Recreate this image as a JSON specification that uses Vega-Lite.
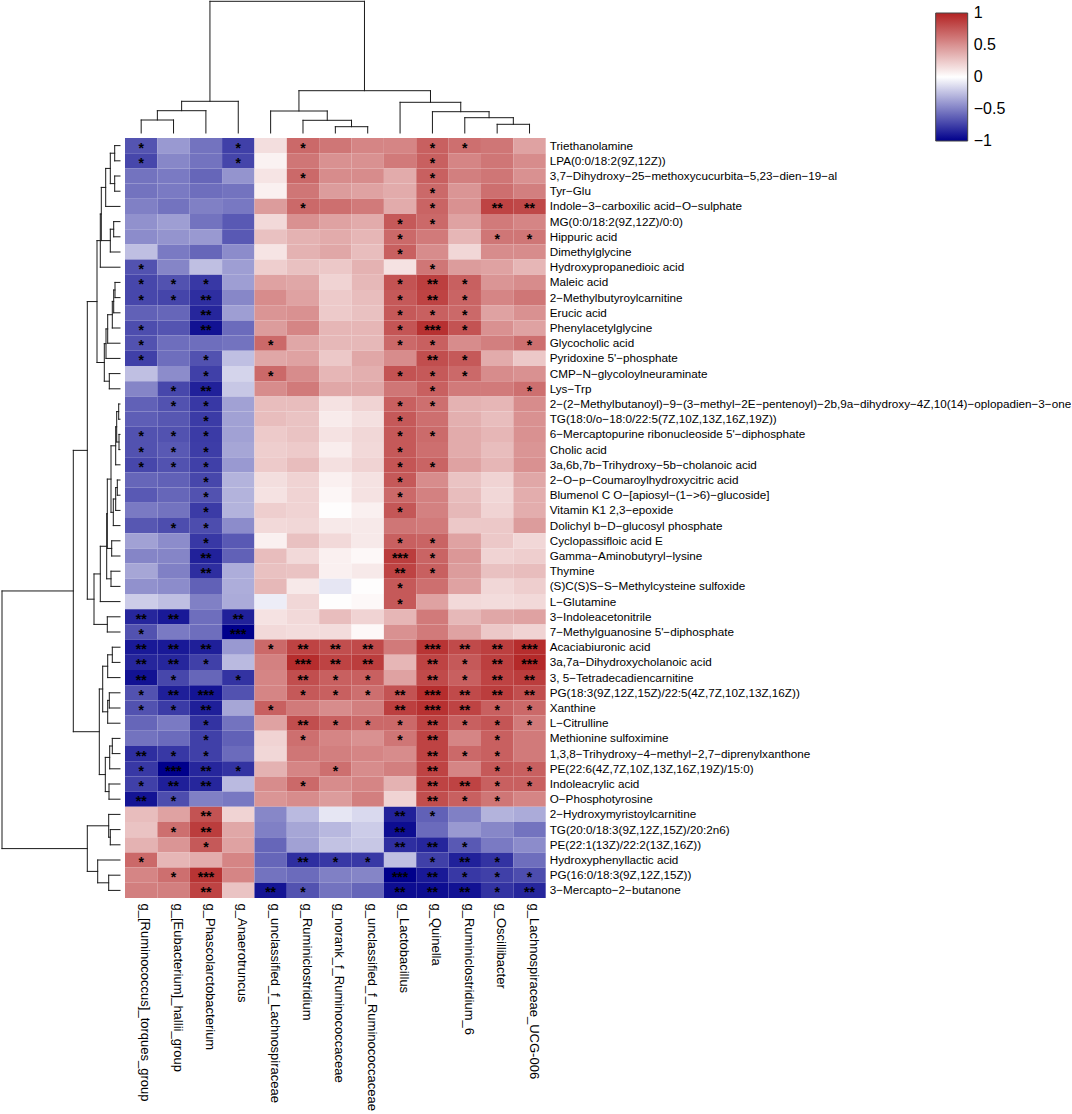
{"$schema":"https://vega.github.io/schema/vega-lite/v6.json","padding":0,"background":"white","bounds":"flush","spacing":0,
"config":{"view":{"stroke":null},"font":"Liberation Sans"},
"datasets":{
"metabolites":[{"m":1,"metabolite":"Triethanolamine"},{"m":2,"metabolite":"LPA(0:0/18:2(9Z,12Z))"},{"m":3,"metabolite":"3,7−Dihydroxy−25−methoxycucurbita−5,23−dien−19−al"},{"m":4,"metabolite":"Tyr−Glu"},{"m":5,"metabolite":"Indole−3−carboxilic acid−O−sulphate"},{"m":6,"metabolite":"MG(0:0/18:2(9Z,12Z)/0:0)"},{"m":7,"metabolite":"Hippuric acid"},{"m":8,"metabolite":"Dimethylglycine"},{"m":9,"metabolite":"Hydroxypropanedioic acid"},{"m":10,"metabolite":"Maleic acid"},{"m":11,"metabolite":"2−Methylbutyroylcarnitine"},{"m":12,"metabolite":"Erucic acid"},{"m":13,"metabolite":"Phenylacetylglycine"},{"m":14,"metabolite":"Glycocholic acid"},{"m":15,"metabolite":"Pyridoxine 5'−phosphate"},{"m":16,"metabolite":"CMP−N−glycoloylneuraminate"},{"m":17,"metabolite":"Lys−Trp"},{"m":18,"metabolite":"2−(2−Methylbutanoyl)−9−(3−methyl−2E−pentenoyl)−2b,9a−dihydroxy−4Z,10(14)−oplopadien−3−one"},{"m":19,"metabolite":"TG(18:0/o−18:0/22:5(7Z,10Z,13Z,16Z,19Z))"},{"m":20,"metabolite":"6−Mercaptopurine ribonucleoside 5'−diphosphate"},{"m":21,"metabolite":"Cholic acid"},{"m":22,"metabolite":"3a,6b,7b−Trihydroxy−5b−cholanoic acid"},{"m":23,"metabolite":"2−O−p−Coumaroylhydroxycitric acid"},{"m":24,"metabolite":"Blumenol C O−[apiosyl−(1−>6)−glucoside]"},{"m":25,"metabolite":"Vitamin K1 2,3−epoxide"},{"m":26,"metabolite":"Dolichyl b−D−glucosyl phosphate"},{"m":27,"metabolite":"Cyclopassifloic acid E"},{"m":28,"metabolite":"Gamma−Aminobutyryl−lysine"},{"m":29,"metabolite":"Thymine"},{"m":30,"metabolite":"(S)C(S)S−S−Methylcysteine sulfoxide"},{"m":31,"metabolite":"L−Glutamine"},{"m":32,"metabolite":"3−Indoleacetonitrile"},{"m":33,"metabolite":"7−Methylguanosine 5'−diphosphate"},{"m":34,"metabolite":"Acaciabiuronic acid"},{"m":35,"metabolite":"3a,7a−Dihydroxycholanoic acid"},{"m":36,"metabolite":"3, 5−Tetradecadiencarnitine"},{"m":37,"metabolite":"PG(18:3(9Z,12Z,15Z)/22:5(4Z,7Z,10Z,13Z,16Z))"},{"m":38,"metabolite":"Xanthine"},{"m":39,"metabolite":"L−Citrulline"},{"m":40,"metabolite":"Methionine sulfoximine"},{"m":41,"metabolite":"1,3,8−Trihydroxy−4−methyl−2,7−diprenylxanthone"},{"m":42,"metabolite":"PE(22:6(4Z,7Z,10Z,13Z,16Z,19Z)/15:0)"},{"m":43,"metabolite":"Indoleacrylic acid"},{"m":44,"metabolite":"O−Phosphotyrosine"},{"m":45,"metabolite":"2−Hydroxymyristoylcarnitine"},{"m":46,"metabolite":"TG(20:0/18:3(9Z,12Z,15Z)/20:2n6)"},{"m":47,"metabolite":"PE(22:1(13Z)/22:2(13Z,16Z))"},{"m":48,"metabolite":"Hydroxyphenyllactic acid"},{"m":49,"metabolite":"PG(16:0/18:3(9Z,12Z,15Z))"},{"m":50,"metabolite":"3−Mercapto−2−butanone"}],
"genera":[{"g":1,"genus":"g_[Ruminococcus]_torques_group"},{"g":2,"genus":"g_[Eubacterium]_hallii_group"},{"g":3,"genus":"g_Phascolarctobacterium"},{"g":4,"genus":"g_Anaerotruncus"},{"g":5,"genus":"g_unclassified_f_Lachnospiraceae"},{"g":6,"genus":"g_Ruminiclostridium"},{"g":7,"genus":"g_norank_f_Ruminococcaceae"},{"g":8,"genus":"g_unclassified_f_Ruminococcaceae"},{"g":9,"genus":"g_Lactobacillus"},{"g":10,"genus":"g_Quinella"},{"g":11,"genus":"g_Ruminiclostridium_6"},{"g":12,"genus":"g_Oscillibacter"},{"g":13,"genus":"g_Lachnospiraceae_UCG-006"}],
"rowTree":[{"a":1,"ha":0,"b":2,"hb":0,"h":5.3},{"a":3,"ha":0,"b":4,"hb":0,"h":5.3},{"a":1.5,"ha":5.3,"b":3.5,"hb":5.3,"h":9.7},{"a":2.5,"ha":9.7,"b":5,"hb":0,"h":14.3},{"a":6,"ha":0,"b":7,"hb":0,"h":6.3},{"a":6.5,"ha":6.3,"b":8,"hb":0,"h":9.7},{"a":3.75,"ha":14.3,"b":7.25,"hb":9.7,"h":18.7},{"a":5.5,"ha":18.7,"b":9,"hb":0,"h":19.7},{"a":10,"ha":0,"b":11,"hb":0,"h":5},{"a":10.5,"ha":5,"b":12,"hb":0,"h":6.3},{"a":11.25,"ha":6.3,"b":13,"hb":0,"h":7.7},{"a":12.125,"ha":7.7,"b":14,"hb":0,"h":12.3},{"a":13.06,"ha":12.3,"b":15,"hb":0,"h":14},{"a":16,"ha":0,"b":17,"hb":0,"h":10.7},{"a":14.03,"ha":14,"b":16.5,"hb":10.7,"h":15.7},{"a":7.25,"ha":19.7,"b":15.27,"hb":15.7,"h":23},{"a":18,"ha":0,"b":19,"hb":0,"h":1.3},{"a":20,"ha":0,"b":21,"hb":0,"h":1},{"a":18.5,"ha":1.3,"b":20.5,"hb":1,"h":3.3},{"a":19.5,"ha":3.3,"b":22,"hb":0,"h":4.3},{"a":23,"ha":0,"b":24,"hb":0,"h":2.7},{"a":23.5,"ha":2.7,"b":25,"hb":0,"h":4.3},{"a":24.25,"ha":4.3,"b":26,"hb":0,"h":6.7},{"a":20.75,"ha":4.3,"b":25.125,"hb":6.7,"h":9},{"a":27,"ha":0,"b":28,"hb":0,"h":8.3},{"a":22.94,"ha":9,"b":27.5,"hb":8.3,"h":12.7},{"a":29,"ha":0,"b":30,"hb":0,"h":9},{"a":25.22,"ha":12.7,"b":29.5,"hb":9,"h":13.3},{"a":27.36,"ha":13.3,"b":31,"hb":0,"h":19.7},{"a":32,"ha":0,"b":33,"hb":0,"h":12.7},{"a":29.18,"ha":19.7,"b":32.5,"hb":12.7,"h":26},{"a":11.26,"ha":23,"b":30.84,"hb":26,"h":32.7},{"a":34,"ha":0,"b":35,"hb":0,"h":7.7},{"a":34.5,"ha":7.7,"b":36,"hb":0,"h":12.3},{"a":37,"ha":0,"b":38,"hb":0,"h":10.7},{"a":37.5,"ha":10.7,"b":39,"hb":0,"h":12.3},{"a":35.25,"ha":12.3,"b":38.25,"hb":12.3,"h":17.3},{"a":40,"ha":0,"b":41,"hb":0,"h":7.7},{"a":40.5,"ha":7.7,"b":42,"hb":0,"h":10.3},{"a":43,"ha":0,"b":44,"hb":0,"h":11},{"a":41.25,"ha":10.3,"b":43.5,"hb":11,"h":14.7},{"a":36.75,"ha":17.3,"b":42.38,"hb":14.7,"h":20.7},{"a":21.05,"ha":32.7,"b":39.56,"hb":20.7,"h":46.7},{"a":46,"ha":0,"b":47,"hb":0,"h":9.7},{"a":45,"ha":0,"b":46.5,"hb":9.7,"h":11.3},{"a":49,"ha":0,"b":50,"hb":0,"h":11.3},{"a":48,"ha":0,"b":49.5,"hb":11.3,"h":22.3},{"a":45.75,"ha":11.3,"b":48.75,"hb":22.3,"h":32.7},{"a":30.3,"ha":46.7,"b":47.25,"hb":32.7,"h":118}],
"colTree":[{"a":1,"ha":0,"b":2,"hb":0,"h":13},{"a":1.5,"ha":13,"b":3,"hb":0,"h":22.3},{"a":2.25,"ha":22.3,"b":4,"hb":0,"h":31.7},{"a":7,"ha":0,"b":8,"hb":0,"h":6.3},{"a":6,"ha":0,"b":7.5,"hb":6.3,"h":12.7},{"a":5,"ha":0,"b":6.75,"hb":12.7,"h":22},{"a":12,"ha":0,"b":13,"hb":0,"h":8.7},{"a":11,"ha":0,"b":12.5,"hb":8.7,"h":15.3},{"a":10,"ha":0,"b":11.75,"hb":15.3,"h":21.3},{"a":9,"ha":0,"b":10.875,"hb":21.3,"h":30.7},{"a":5.875,"ha":22,"b":9.94,"hb":30.7,"h":42.3},{"a":3.125,"ha":31.7,"b":7.9,"hb":42.3,"h":131.7}],
"cells":[
{"m":1,"g":1,"r":-0.67,"s":"*"},{"m":1,"g":2,"r":-0.4,"s":""},{"m":1,"g":3,"r":-0.55,"s":""},{"m":1,"g":4,"r":-0.75,"s":"*"},{"m":1,"g":5,"r":0.15,"s":""},{"m":1,"g":6,"r":0.68,"s":"*"},{"m":1,"g":7,"r":0.62,"s":""},{"m":1,"g":8,"r":0.55,"s":""},{"m":1,"g":9,"r":0.55,"s":""},{"m":1,"g":10,"r":0.72,"s":"*"},{"m":1,"g":11,"r":0.65,"s":"*"},{"m":1,"g":12,"r":0.62,"s":""},{"m":1,"g":13,"r":0.42,"s":""},
{"m":2,"g":1,"r":-0.72,"s":"*"},{"m":2,"g":2,"r":-0.47,"s":""},{"m":2,"g":3,"r":-0.55,"s":""},{"m":2,"g":4,"r":-0.73,"s":"*"},{"m":2,"g":5,"r":0.06,"s":""},{"m":2,"g":6,"r":0.62,"s":""},{"m":2,"g":7,"r":0.5,"s":""},{"m":2,"g":8,"r":0.5,"s":""},{"m":2,"g":9,"r":0.6,"s":""},{"m":2,"g":10,"r":0.72,"s":"*"},{"m":2,"g":11,"r":0.55,"s":""},{"m":2,"g":12,"r":0.62,"s":""},{"m":2,"g":13,"r":0.52,"s":""},
{"m":3,"g":1,"r":-0.55,"s":""},{"m":3,"g":2,"r":-0.52,"s":""},{"m":3,"g":3,"r":-0.6,"s":""},{"m":3,"g":4,"r":-0.42,"s":""},{"m":3,"g":5,"r":0.12,"s":""},{"m":3,"g":6,"r":0.68,"s":"*"},{"m":3,"g":7,"r":0.52,"s":""},{"m":3,"g":8,"r":0.52,"s":""},{"m":3,"g":9,"r":0.38,"s":""},{"m":3,"g":10,"r":0.72,"s":"*"},{"m":3,"g":11,"r":0.58,"s":""},{"m":3,"g":12,"r":0.62,"s":""},{"m":3,"g":13,"r":0.5,"s":""},
{"m":4,"g":1,"r":-0.55,"s":""},{"m":4,"g":2,"r":-0.52,"s":""},{"m":4,"g":3,"r":-0.57,"s":""},{"m":4,"g":4,"r":-0.55,"s":""},{"m":4,"g":5,"r":0.07,"s":""},{"m":4,"g":6,"r":0.62,"s":""},{"m":4,"g":7,"r":0.45,"s":""},{"m":4,"g":8,"r":0.42,"s":""},{"m":4,"g":9,"r":0.38,"s":""},{"m":4,"g":10,"r":0.68,"s":"*"},{"m":4,"g":11,"r":0.48,"s":""},{"m":4,"g":12,"r":0.65,"s":""},{"m":4,"g":13,"r":0.58,"s":""},
{"m":5,"g":1,"r":-0.5,"s":""},{"m":5,"g":2,"r":-0.55,"s":""},{"m":5,"g":3,"r":-0.5,"s":""},{"m":5,"g":4,"r":-0.53,"s":""},{"m":5,"g":5,"r":0.45,"s":""},{"m":5,"g":6,"r":0.68,"s":"*"},{"m":5,"g":7,"r":0.65,"s":""},{"m":5,"g":8,"r":0.6,"s":""},{"m":5,"g":9,"r":0.38,"s":""},{"m":5,"g":10,"r":0.7,"s":"*"},{"m":5,"g":11,"r":0.5,"s":""},{"m":5,"g":12,"r":0.85,"s":"**"},{"m":5,"g":13,"r":0.83,"s":"**"},
{"m":6,"g":1,"r":-0.43,"s":""},{"m":6,"g":2,"r":-0.38,"s":""},{"m":6,"g":3,"r":-0.55,"s":""},{"m":6,"g":4,"r":-0.65,"s":""},{"m":6,"g":5,"r":0.17,"s":""},{"m":6,"g":6,"r":0.5,"s":""},{"m":6,"g":7,"r":0.42,"s":""},{"m":6,"g":8,"r":0.38,"s":""},{"m":6,"g":9,"r":0.75,"s":"*"},{"m":6,"g":10,"r":0.68,"s":"*"},{"m":6,"g":11,"r":0.42,"s":""},{"m":6,"g":12,"r":0.6,"s":""},{"m":6,"g":13,"r":0.55,"s":""},
{"m":7,"g":1,"r":-0.45,"s":""},{"m":7,"g":2,"r":-0.42,"s":""},{"m":7,"g":3,"r":-0.4,"s":""},{"m":7,"g":4,"r":-0.65,"s":""},{"m":7,"g":5,"r":0.28,"s":""},{"m":7,"g":6,"r":0.35,"s":""},{"m":7,"g":7,"r":0.38,"s":""},{"m":7,"g":8,"r":0.33,"s":""},{"m":7,"g":9,"r":0.68,"s":"*"},{"m":7,"g":10,"r":0.6,"s":""},{"m":7,"g":11,"r":0.33,"s":""},{"m":7,"g":12,"r":0.62,"s":"*"},{"m":7,"g":13,"r":0.62,"s":"*"},
{"m":8,"g":1,"r":-0.25,"s":""},{"m":8,"g":2,"r":-0.52,"s":""},{"m":8,"g":3,"r":-0.6,"s":""},{"m":8,"g":4,"r":-0.45,"s":""},{"m":8,"g":5,"r":0.12,"s":""},{"m":8,"g":6,"r":0.35,"s":""},{"m":8,"g":7,"r":0.4,"s":""},{"m":8,"g":8,"r":0.3,"s":""},{"m":8,"g":9,"r":0.72,"s":"*"},{"m":8,"g":10,"r":0.52,"s":""},{"m":8,"g":11,"r":0.18,"s":""},{"m":8,"g":12,"r":0.52,"s":""},{"m":8,"g":13,"r":0.52,"s":""},
{"m":9,"g":1,"r":-0.68,"s":"*"},{"m":9,"g":2,"r":-0.48,"s":""},{"m":9,"g":3,"r":-0.25,"s":""},{"m":9,"g":4,"r":-0.38,"s":""},{"m":9,"g":5,"r":0.22,"s":""},{"m":9,"g":6,"r":0.28,"s":""},{"m":9,"g":7,"r":0.25,"s":""},{"m":9,"g":8,"r":0.35,"s":""},{"m":9,"g":9,"r":0.13,"s":""},{"m":9,"g":10,"r":0.62,"s":"*"},{"m":9,"g":11,"r":0.45,"s":""},{"m":9,"g":12,"r":0.42,"s":""},{"m":9,"g":13,"r":0.33,"s":""},
{"m":10,"g":1,"r":-0.72,"s":"*"},{"m":10,"g":2,"r":-0.68,"s":"*"},{"m":10,"g":3,"r":-0.78,"s":"*"},{"m":10,"g":4,"r":-0.38,"s":""},{"m":10,"g":5,"r":0.42,"s":""},{"m":10,"g":6,"r":0.4,"s":""},{"m":10,"g":7,"r":0.2,"s":""},{"m":10,"g":8,"r":0.32,"s":""},{"m":10,"g":9,"r":0.78,"s":"*"},{"m":10,"g":10,"r":0.87,"s":"**"},{"m":10,"g":11,"r":0.72,"s":"*"},{"m":10,"g":12,"r":0.48,"s":""},{"m":10,"g":13,"r":0.52,"s":""},
{"m":11,"g":1,"r":-0.72,"s":"*"},{"m":11,"g":2,"r":-0.73,"s":"*"},{"m":11,"g":3,"r":-0.82,"s":"**"},{"m":11,"g":4,"r":-0.47,"s":""},{"m":11,"g":5,"r":0.52,"s":""},{"m":11,"g":6,"r":0.42,"s":""},{"m":11,"g":7,"r":0.24,"s":""},{"m":11,"g":8,"r":0.3,"s":""},{"m":11,"g":9,"r":0.75,"s":"*"},{"m":11,"g":10,"r":0.85,"s":"**"},{"m":11,"g":11,"r":0.7,"s":"*"},{"m":11,"g":12,"r":0.55,"s":""},{"m":11,"g":13,"r":0.62,"s":""},
{"m":12,"g":1,"r":-0.62,"s":""},{"m":12,"g":2,"r":-0.6,"s":""},{"m":12,"g":3,"r":-0.85,"s":"**"},{"m":12,"g":4,"r":-0.38,"s":""},{"m":12,"g":5,"r":0.48,"s":""},{"m":12,"g":6,"r":0.5,"s":""},{"m":12,"g":7,"r":0.24,"s":""},{"m":12,"g":8,"r":0.28,"s":""},{"m":12,"g":9,"r":0.75,"s":"*"},{"m":12,"g":10,"r":0.72,"s":"*"},{"m":12,"g":11,"r":0.68,"s":"*"},{"m":12,"g":12,"r":0.42,"s":""},{"m":12,"g":13,"r":0.5,"s":""},
{"m":13,"g":1,"r":-0.7,"s":"*"},{"m":13,"g":2,"r":-0.67,"s":""},{"m":13,"g":3,"r":-0.93,"s":"**"},{"m":13,"g":4,"r":-0.58,"s":""},{"m":13,"g":5,"r":0.45,"s":""},{"m":13,"g":6,"r":0.55,"s":""},{"m":13,"g":7,"r":0.33,"s":""},{"m":13,"g":8,"r":0.33,"s":""},{"m":13,"g":9,"r":0.77,"s":"*"},{"m":13,"g":10,"r":0.93,"s":"***"},{"m":13,"g":11,"r":0.78,"s":"*"},{"m":13,"g":12,"r":0.5,"s":""},{"m":13,"g":13,"r":0.42,"s":""},
{"m":14,"g":1,"r":-0.68,"s":"*"},{"m":14,"g":2,"r":-0.57,"s":""},{"m":14,"g":3,"r":-0.57,"s":""},{"m":14,"g":4,"r":-0.55,"s":""},{"m":14,"g":5,"r":0.68,"s":"*"},{"m":14,"g":6,"r":0.4,"s":""},{"m":14,"g":7,"r":0.32,"s":""},{"m":14,"g":8,"r":0.32,"s":""},{"m":14,"g":9,"r":0.68,"s":"*"},{"m":14,"g":10,"r":0.72,"s":"*"},{"m":14,"g":11,"r":0.52,"s":""},{"m":14,"g":12,"r":0.58,"s":""},{"m":14,"g":13,"r":0.65,"s":"*"},
{"m":15,"g":1,"r":-0.75,"s":"*"},{"m":15,"g":2,"r":-0.57,"s":""},{"m":15,"g":3,"r":-0.68,"s":"*"},{"m":15,"g":4,"r":-0.25,"s":""},{"m":15,"g":5,"r":0.4,"s":""},{"m":15,"g":6,"r":0.42,"s":""},{"m":15,"g":7,"r":0.25,"s":""},{"m":15,"g":8,"r":0.4,"s":""},{"m":15,"g":9,"r":0.52,"s":""},{"m":15,"g":10,"r":0.8,"s":"**"},{"m":15,"g":11,"r":0.75,"s":"*"},{"m":15,"g":12,"r":0.38,"s":""},{"m":15,"g":13,"r":0.25,"s":""},
{"m":16,"g":1,"r":-0.25,"s":""},{"m":16,"g":2,"r":-0.45,"s":""},{"m":16,"g":3,"r":-0.75,"s":"*"},{"m":16,"g":4,"r":-0.17,"s":""},{"m":16,"g":5,"r":0.68,"s":"*"},{"m":16,"g":6,"r":0.52,"s":""},{"m":16,"g":7,"r":0.33,"s":""},{"m":16,"g":8,"r":0.36,"s":""},{"m":16,"g":9,"r":0.78,"s":"*"},{"m":16,"g":10,"r":0.75,"s":"*"},{"m":16,"g":11,"r":0.68,"s":"*"},{"m":16,"g":12,"r":0.52,"s":""},{"m":16,"g":13,"r":0.5,"s":""},
{"m":17,"g":1,"r":-0.48,"s":""},{"m":17,"g":2,"r":-0.72,"s":"*"},{"m":17,"g":3,"r":-0.87,"s":"**"},{"m":17,"g":4,"r":-0.22,"s":""},{"m":17,"g":5,"r":0.52,"s":""},{"m":17,"g":6,"r":0.6,"s":""},{"m":17,"g":7,"r":0.4,"s":""},{"m":17,"g":8,"r":0.4,"s":""},{"m":17,"g":9,"r":0.62,"s":""},{"m":17,"g":10,"r":0.72,"s":"*"},{"m":17,"g":11,"r":0.6,"s":""},{"m":17,"g":12,"r":0.6,"s":""},{"m":17,"g":13,"r":0.65,"s":"*"},
{"m":18,"g":1,"r":-0.62,"s":""},{"m":18,"g":2,"r":-0.68,"s":"*"},{"m":18,"g":3,"r":-0.78,"s":"*"},{"m":18,"g":4,"r":-0.37,"s":""},{"m":18,"g":5,"r":0.3,"s":""},{"m":18,"g":6,"r":0.3,"s":""},{"m":18,"g":7,"r":0.13,"s":""},{"m":18,"g":8,"r":0.2,"s":""},{"m":18,"g":9,"r":0.72,"s":"*"},{"m":18,"g":10,"r":0.65,"s":"*"},{"m":18,"g":11,"r":0.35,"s":""},{"m":18,"g":12,"r":0.33,"s":""},{"m":18,"g":13,"r":0.52,"s":""},
{"m":19,"g":1,"r":-0.63,"s":""},{"m":19,"g":2,"r":-0.66,"s":""},{"m":19,"g":3,"r":-0.77,"s":"*"},{"m":19,"g":4,"r":-0.37,"s":""},{"m":19,"g":5,"r":0.3,"s":""},{"m":19,"g":6,"r":0.27,"s":""},{"m":19,"g":7,"r":0.09,"s":""},{"m":19,"g":8,"r":0.14,"s":""},{"m":19,"g":9,"r":0.75,"s":"*"},{"m":19,"g":10,"r":0.65,"s":""},{"m":19,"g":11,"r":0.36,"s":""},{"m":19,"g":12,"r":0.3,"s":""},{"m":19,"g":13,"r":0.5,"s":""},
{"m":20,"g":1,"r":-0.68,"s":"*"},{"m":20,"g":2,"r":-0.68,"s":"*"},{"m":20,"g":3,"r":-0.77,"s":"*"},{"m":20,"g":4,"r":-0.37,"s":""},{"m":20,"g":5,"r":0.24,"s":""},{"m":20,"g":6,"r":0.27,"s":""},{"m":20,"g":7,"r":0.13,"s":""},{"m":20,"g":8,"r":0.18,"s":""},{"m":20,"g":9,"r":0.75,"s":"*"},{"m":20,"g":10,"r":0.67,"s":"*"},{"m":20,"g":11,"r":0.38,"s":""},{"m":20,"g":12,"r":0.33,"s":""},{"m":20,"g":13,"r":0.5,"s":""},
{"m":21,"g":1,"r":-0.68,"s":"*"},{"m":21,"g":2,"r":-0.65,"s":"*"},{"m":21,"g":3,"r":-0.76,"s":"*"},{"m":21,"g":4,"r":-0.35,"s":""},{"m":21,"g":5,"r":0.22,"s":""},{"m":21,"g":6,"r":0.24,"s":""},{"m":21,"g":7,"r":0.08,"s":""},{"m":21,"g":8,"r":0.17,"s":""},{"m":21,"g":9,"r":0.75,"s":"*"},{"m":21,"g":10,"r":0.65,"s":""},{"m":21,"g":11,"r":0.38,"s":""},{"m":21,"g":12,"r":0.3,"s":""},{"m":21,"g":13,"r":0.48,"s":""},
{"m":22,"g":1,"r":-0.72,"s":"*"},{"m":22,"g":2,"r":-0.68,"s":"*"},{"m":22,"g":3,"r":-0.75,"s":"*"},{"m":22,"g":4,"r":-0.4,"s":""},{"m":22,"g":5,"r":0.24,"s":""},{"m":22,"g":6,"r":0.3,"s":""},{"m":22,"g":7,"r":0.14,"s":""},{"m":22,"g":8,"r":0.2,"s":""},{"m":22,"g":9,"r":0.77,"s":"*"},{"m":22,"g":10,"r":0.7,"s":"*"},{"m":22,"g":11,"r":0.42,"s":""},{"m":22,"g":12,"r":0.33,"s":""},{"m":22,"g":13,"r":0.5,"s":""},
{"m":23,"g":1,"r":-0.6,"s":""},{"m":23,"g":2,"r":-0.62,"s":""},{"m":23,"g":3,"r":-0.72,"s":"*"},{"m":23,"g":4,"r":-0.3,"s":""},{"m":23,"g":5,"r":0.15,"s":""},{"m":23,"g":6,"r":0.2,"s":""},{"m":23,"g":7,"r":0.07,"s":""},{"m":23,"g":8,"r":0.13,"s":""},{"m":23,"g":9,"r":0.75,"s":"*"},{"m":23,"g":10,"r":0.52,"s":""},{"m":23,"g":11,"r":0.27,"s":""},{"m":23,"g":12,"r":0.2,"s":""},{"m":23,"g":13,"r":0.4,"s":""},
{"m":24,"g":1,"r":-0.65,"s":""},{"m":24,"g":2,"r":-0.6,"s":""},{"m":24,"g":3,"r":-0.68,"s":"*"},{"m":24,"g":4,"r":-0.3,"s":""},{"m":24,"g":5,"r":0.13,"s":""},{"m":24,"g":6,"r":0.2,"s":""},{"m":24,"g":7,"r":0.04,"s":""},{"m":24,"g":8,"r":0.13,"s":""},{"m":24,"g":9,"r":0.68,"s":"*"},{"m":24,"g":10,"r":0.57,"s":""},{"m":24,"g":11,"r":0.3,"s":""},{"m":24,"g":12,"r":0.18,"s":""},{"m":24,"g":13,"r":0.37,"s":""},
{"m":25,"g":1,"r":-0.52,"s":""},{"m":25,"g":2,"r":-0.55,"s":""},{"m":25,"g":3,"r":-0.77,"s":"*"},{"m":25,"g":4,"r":-0.3,"s":""},{"m":25,"g":5,"r":0.22,"s":""},{"m":25,"g":6,"r":0.2,"s":""},{"m":25,"g":7,"r":0.01,"s":""},{"m":25,"g":8,"r":0.07,"s":""},{"m":25,"g":9,"r":0.76,"s":"*"},{"m":25,"g":10,"r":0.57,"s":""},{"m":25,"g":11,"r":0.32,"s":""},{"m":25,"g":12,"r":0.2,"s":""},{"m":25,"g":13,"r":0.37,"s":""},
{"m":26,"g":1,"r":-0.66,"s":""},{"m":26,"g":2,"r":-0.7,"s":"*"},{"m":26,"g":3,"r":-0.7,"s":"*"},{"m":26,"g":4,"r":-0.45,"s":""},{"m":26,"g":5,"r":0.17,"s":""},{"m":26,"g":6,"r":0.18,"s":""},{"m":26,"g":7,"r":0.1,"s":""},{"m":26,"g":8,"r":0.1,"s":""},{"m":26,"g":9,"r":0.62,"s":""},{"m":26,"g":10,"r":0.6,"s":""},{"m":26,"g":11,"r":0.25,"s":""},{"m":26,"g":12,"r":0.25,"s":""},{"m":26,"g":13,"r":0.45,"s":""},
{"m":27,"g":1,"r":-0.37,"s":""},{"m":27,"g":2,"r":-0.45,"s":""},{"m":27,"g":3,"r":-0.78,"s":"*"},{"m":27,"g":4,"r":-0.65,"s":""},{"m":27,"g":5,"r":0.07,"s":""},{"m":27,"g":6,"r":0.28,"s":""},{"m":27,"g":7,"r":0.17,"s":""},{"m":27,"g":8,"r":0.1,"s":""},{"m":27,"g":9,"r":0.72,"s":"*"},{"m":27,"g":10,"r":0.7,"s":"*"},{"m":27,"g":11,"r":0.42,"s":""},{"m":27,"g":12,"r":0.25,"s":""},{"m":27,"g":13,"r":0.18,"s":""},
{"m":28,"g":1,"r":-0.48,"s":""},{"m":28,"g":2,"r":-0.48,"s":""},{"m":28,"g":3,"r":-0.87,"s":"**"},{"m":28,"g":4,"r":-0.62,"s":""},{"m":28,"g":5,"r":0.3,"s":""},{"m":28,"g":6,"r":0.17,"s":""},{"m":28,"g":7,"r":0.07,"s":""},{"m":28,"g":8,"r":0.03,"s":""},{"m":28,"g":9,"r":0.88,"s":"***"},{"m":28,"g":10,"r":0.7,"s":"*"},{"m":28,"g":11,"r":0.47,"s":""},{"m":28,"g":12,"r":0.2,"s":""},{"m":28,"g":13,"r":0.22,"s":""},
{"m":29,"g":1,"r":-0.35,"s":""},{"m":29,"g":2,"r":-0.5,"s":""},{"m":29,"g":3,"r":-0.82,"s":"**"},{"m":29,"g":4,"r":-0.32,"s":""},{"m":29,"g":5,"r":0.28,"s":""},{"m":29,"g":6,"r":0.27,"s":""},{"m":29,"g":7,"r":0.07,"s":""},{"m":29,"g":8,"r":0.1,"s":""},{"m":29,"g":9,"r":0.85,"s":"**"},{"m":29,"g":10,"r":0.72,"s":"*"},{"m":29,"g":11,"r":0.45,"s":""},{"m":29,"g":12,"r":0.28,"s":""},{"m":29,"g":13,"r":0.3,"s":""},
{"m":30,"g":1,"r":-0.43,"s":""},{"m":30,"g":2,"r":-0.45,"s":""},{"m":30,"g":3,"r":-0.62,"s":""},{"m":30,"g":4,"r":-0.32,"s":""},{"m":30,"g":5,"r":0.32,"s":""},{"m":30,"g":6,"r":0.1,"s":""},{"m":30,"g":7,"r":-0.1,"s":""},{"m":30,"g":8,"r":0.01,"s":""},{"m":30,"g":9,"r":0.75,"s":"*"},{"m":30,"g":10,"r":0.65,"s":""},{"m":30,"g":11,"r":0.42,"s":""},{"m":30,"g":12,"r":0.18,"s":""},{"m":30,"g":13,"r":0.22,"s":""},
{"m":31,"g":1,"r":-0.2,"s":""},{"m":31,"g":2,"r":-0.25,"s":""},{"m":31,"g":3,"r":-0.5,"s":""},{"m":31,"g":4,"r":-0.33,"s":""},{"m":31,"g":5,"r":-0.07,"s":""},{"m":31,"g":6,"r":0.18,"s":""},{"m":31,"g":7,"r":0.01,"s":""},{"m":31,"g":8,"r":0.03,"s":""},{"m":31,"g":9,"r":0.75,"s":"*"},{"m":31,"g":10,"r":0.42,"s":""},{"m":31,"g":11,"r":0.17,"s":""},{"m":31,"g":12,"r":0.16,"s":""},{"m":31,"g":13,"r":0.17,"s":""},
{"m":32,"g":1,"r":-0.85,"s":"**"},{"m":32,"g":2,"r":-0.9,"s":"**"},{"m":32,"g":3,"r":-0.57,"s":""},{"m":32,"g":4,"r":-0.87,"s":"**"},{"m":32,"g":5,"r":0.13,"s":""},{"m":32,"g":6,"r":0.17,"s":""},{"m":32,"g":7,"r":0.3,"s":""},{"m":32,"g":8,"r":0.2,"s":""},{"m":32,"g":9,"r":0.33,"s":""},{"m":32,"g":10,"r":0.6,"s":""},{"m":32,"g":11,"r":0.32,"s":""},{"m":32,"g":12,"r":0.4,"s":""},{"m":32,"g":13,"r":0.42,"s":""},
{"m":33,"g":1,"r":-0.68,"s":"*"},{"m":33,"g":2,"r":-0.52,"s":""},{"m":33,"g":3,"r":-0.57,"s":""},{"m":33,"g":4,"r":-1,"s":"***"},{"m":33,"g":5,"r":0.17,"s":""},{"m":33,"g":6,"r":0.16,"s":""},{"m":33,"g":7,"r":0.16,"s":""},{"m":33,"g":8,"r":0.03,"s":""},{"m":33,"g":9,"r":0.5,"s":""},{"m":33,"g":10,"r":0.6,"s":""},{"m":33,"g":11,"r":0.42,"s":""},{"m":33,"g":12,"r":0.25,"s":""},{"m":33,"g":13,"r":0.2,"s":""},
{"m":34,"g":1,"r":-0.9,"s":"**"},{"m":34,"g":2,"r":-0.9,"s":"**"},{"m":34,"g":3,"r":-0.88,"s":"**"},{"m":34,"g":4,"r":-0.4,"s":""},{"m":34,"g":5,"r":0.68,"s":"*"},{"m":34,"g":6,"r":0.85,"s":"**"},{"m":34,"g":7,"r":0.8,"s":"**"},{"m":34,"g":8,"r":0.82,"s":"**"},{"m":34,"g":9,"r":0.6,"s":""},{"m":34,"g":10,"r":0.92,"s":"***"},{"m":34,"g":11,"r":0.82,"s":"**"},{"m":34,"g":12,"r":0.87,"s":"**"},{"m":34,"g":13,"r":0.95,"s":"***"},
{"m":35,"g":1,"r":-0.85,"s":"**"},{"m":35,"g":2,"r":-0.85,"s":"**"},{"m":35,"g":3,"r":-0.75,"s":"*"},{"m":35,"g":4,"r":-0.27,"s":""},{"m":35,"g":5,"r":0.57,"s":""},{"m":35,"g":6,"r":0.95,"s":"***"},{"m":35,"g":7,"r":0.85,"s":"**"},{"m":35,"g":8,"r":0.88,"s":"**"},{"m":35,"g":9,"r":0.33,"s":""},{"m":35,"g":10,"r":0.85,"s":"**"},{"m":35,"g":11,"r":0.75,"s":"*"},{"m":35,"g":12,"r":0.87,"s":"**"},{"m":35,"g":13,"r":0.97,"s":"***"},
{"m":36,"g":1,"r":-0.93,"s":"**"},{"m":36,"g":2,"r":-0.72,"s":"*"},{"m":36,"g":3,"r":-0.6,"s":""},{"m":36,"g":4,"r":-0.8,"s":"*"},{"m":36,"g":5,"r":0.55,"s":""},{"m":36,"g":6,"r":0.8,"s":"**"},{"m":36,"g":7,"r":0.72,"s":"*"},{"m":36,"g":8,"r":0.72,"s":"*"},{"m":36,"g":9,"r":0.42,"s":""},{"m":36,"g":10,"r":0.82,"s":"**"},{"m":36,"g":11,"r":0.72,"s":"*"},{"m":36,"g":12,"r":0.85,"s":"**"},{"m":36,"g":13,"r":0.88,"s":"**"},
{"m":37,"g":1,"r":-0.68,"s":"*"},{"m":37,"g":2,"r":-0.88,"s":"**"},{"m":37,"g":3,"r":-0.92,"s":"***"},{"m":37,"g":4,"r":-0.68,"s":""},{"m":37,"g":5,"r":0.55,"s":""},{"m":37,"g":6,"r":0.75,"s":"*"},{"m":37,"g":7,"r":0.72,"s":"*"},{"m":37,"g":8,"r":0.65,"s":"*"},{"m":37,"g":9,"r":0.78,"s":"**"},{"m":37,"g":10,"r":0.95,"s":"***"},{"m":37,"g":11,"r":0.82,"s":"**"},{"m":37,"g":12,"r":0.88,"s":"**"},{"m":37,"g":13,"r":0.8,"s":"**"},
{"m":38,"g":1,"r":-0.68,"s":"*"},{"m":38,"g":2,"r":-0.77,"s":"*"},{"m":38,"g":3,"r":-0.88,"s":"**"},{"m":38,"g":4,"r":-0.35,"s":""},{"m":38,"g":5,"r":0.72,"s":"*"},{"m":38,"g":6,"r":0.6,"s":""},{"m":38,"g":7,"r":0.52,"s":""},{"m":38,"g":8,"r":0.58,"s":""},{"m":38,"g":9,"r":0.87,"s":"**"},{"m":38,"g":10,"r":0.93,"s":"***"},{"m":38,"g":11,"r":0.85,"s":"**"},{"m":38,"g":12,"r":0.72,"s":"*"},{"m":38,"g":13,"r":0.68,"s":"*"},
{"m":39,"g":1,"r":-0.6,"s":""},{"m":39,"g":2,"r":-0.52,"s":""},{"m":39,"g":3,"r":-0.8,"s":"*"},{"m":39,"g":4,"r":-0.55,"s":""},{"m":39,"g":5,"r":0.42,"s":""},{"m":39,"g":6,"r":0.8,"s":"**"},{"m":39,"g":7,"r":0.72,"s":"*"},{"m":39,"g":8,"r":0.68,"s":"*"},{"m":39,"g":9,"r":0.68,"s":"*"},{"m":39,"g":10,"r":0.85,"s":"**"},{"m":39,"g":11,"r":0.72,"s":"*"},{"m":39,"g":12,"r":0.77,"s":"*"},{"m":39,"g":13,"r":0.6,"s":"*"},
{"m":40,"g":1,"r":-0.55,"s":""},{"m":40,"g":2,"r":-0.58,"s":""},{"m":40,"g":3,"r":-0.75,"s":"*"},{"m":40,"g":4,"r":-0.62,"s":""},{"m":40,"g":5,"r":0.2,"s":""},{"m":40,"g":6,"r":0.65,"s":"*"},{"m":40,"g":7,"r":0.55,"s":""},{"m":40,"g":8,"r":0.5,"s":""},{"m":40,"g":9,"r":0.62,"s":"*"},{"m":40,"g":10,"r":0.85,"s":"**"},{"m":40,"g":11,"r":0.55,"s":""},{"m":40,"g":12,"r":0.72,"s":"*"},{"m":40,"g":13,"r":0.6,"s":""},
{"m":41,"g":1,"r":-0.82,"s":"**"},{"m":41,"g":2,"r":-0.78,"s":"*"},{"m":41,"g":3,"r":-0.75,"s":"*"},{"m":41,"g":4,"r":-0.58,"s":""},{"m":41,"g":5,"r":0.18,"s":""},{"m":41,"g":6,"r":0.62,"s":""},{"m":41,"g":7,"r":0.58,"s":""},{"m":41,"g":8,"r":0.55,"s":""},{"m":41,"g":9,"r":0.52,"s":""},{"m":41,"g":10,"r":0.85,"s":"**"},{"m":41,"g":11,"r":0.68,"s":"*"},{"m":41,"g":12,"r":0.72,"s":"*"},{"m":41,"g":13,"r":0.6,"s":""},
{"m":42,"g":1,"r":-0.78,"s":"*"},{"m":42,"g":2,"r":-1,"s":"***"},{"m":42,"g":3,"r":-0.85,"s":"**"},{"m":42,"g":4,"r":-0.8,"s":"*"},{"m":42,"g":5,"r":0.35,"s":""},{"m":42,"g":6,"r":0.55,"s":""},{"m":42,"g":7,"r":0.65,"s":"*"},{"m":42,"g":8,"r":0.52,"s":""},{"m":42,"g":9,"r":0.58,"s":""},{"m":42,"g":10,"r":0.85,"s":"**"},{"m":42,"g":11,"r":0.55,"s":""},{"m":42,"g":12,"r":0.75,"s":"*"},{"m":42,"g":13,"r":0.72,"s":"*"},
{"m":43,"g":1,"r":-0.75,"s":"*"},{"m":43,"g":2,"r":-0.88,"s":"**"},{"m":43,"g":3,"r":-0.85,"s":"**"},{"m":43,"g":4,"r":-0.27,"s":""},{"m":43,"g":5,"r":0.52,"s":""},{"m":43,"g":6,"r":0.68,"s":"*"},{"m":43,"g":7,"r":0.52,"s":""},{"m":43,"g":8,"r":0.55,"s":""},{"m":43,"g":9,"r":0.35,"s":""},{"m":43,"g":10,"r":0.85,"s":"**"},{"m":43,"g":11,"r":0.85,"s":"**"},{"m":43,"g":12,"r":0.72,"s":"*"},{"m":43,"g":13,"r":0.72,"s":"*"},
{"m":44,"g":1,"r":-0.92,"s":"**"},{"m":44,"g":2,"r":-0.7,"s":"*"},{"m":44,"g":3,"r":-0.5,"s":""},{"m":44,"g":4,"r":-0.53,"s":""},{"m":44,"g":5,"r":0.48,"s":""},{"m":44,"g":6,"r":0.52,"s":""},{"m":44,"g":7,"r":0.45,"s":""},{"m":44,"g":8,"r":0.58,"s":""},{"m":44,"g":9,"r":0.2,"s":""},{"m":44,"g":10,"r":0.8,"s":"**"},{"m":44,"g":11,"r":0.72,"s":"*"},{"m":44,"g":12,"r":0.62,"s":"*"},{"m":44,"g":13,"r":0.55,"s":""},
{"m":45,"g":1,"r":0.3,"s":""},{"m":45,"g":2,"r":0.42,"s":""},{"m":45,"g":3,"r":0.78,"s":"**"},{"m":45,"g":4,"r":0.2,"s":""},{"m":45,"g":5,"r":-0.47,"s":""},{"m":45,"g":6,"r":-0.27,"s":""},{"m":45,"g":7,"r":-0.1,"s":""},{"m":45,"g":8,"r":-0.15,"s":""},{"m":45,"g":9,"r":-0.87,"s":"**"},{"m":45,"g":10,"r":-0.62,"s":"*"},{"m":45,"g":11,"r":-0.5,"s":""},{"m":45,"g":12,"r":-0.3,"s":""},{"m":45,"g":13,"r":-0.33,"s":""},
{"m":46,"g":1,"r":0.27,"s":""},{"m":46,"g":2,"r":0.65,"s":"*"},{"m":46,"g":3,"r":0.88,"s":"**"},{"m":46,"g":4,"r":0.4,"s":""},{"m":46,"g":5,"r":-0.5,"s":""},{"m":46,"g":6,"r":-0.35,"s":""},{"m":46,"g":7,"r":-0.28,"s":""},{"m":46,"g":8,"r":-0.2,"s":""},{"m":46,"g":9,"r":-0.95,"s":"**"},{"m":46,"g":10,"r":-0.58,"s":""},{"m":46,"g":11,"r":-0.4,"s":""},{"m":46,"g":12,"r":-0.47,"s":""},{"m":46,"g":13,"r":-0.55,"s":""},
{"m":47,"g":1,"r":0.35,"s":""},{"m":47,"g":2,"r":0.48,"s":""},{"m":47,"g":3,"r":0.75,"s":"*"},{"m":47,"g":4,"r":0.42,"s":""},{"m":47,"g":5,"r":-0.6,"s":""},{"m":47,"g":6,"r":-0.37,"s":""},{"m":47,"g":7,"r":-0.24,"s":""},{"m":47,"g":8,"r":-0.22,"s":""},{"m":47,"g":9,"r":-0.82,"s":"**"},{"m":47,"g":10,"r":-0.85,"s":"**"},{"m":47,"g":11,"r":-0.65,"s":"*"},{"m":47,"g":12,"r":-0.52,"s":""},{"m":47,"g":13,"r":-0.45,"s":""},
{"m":48,"g":1,"r":0.68,"s":"*"},{"m":48,"g":2,"r":0.33,"s":""},{"m":48,"g":3,"r":0.37,"s":""},{"m":48,"g":4,"r":0.55,"s":""},{"m":48,"g":5,"r":-0.6,"s":""},{"m":48,"g":6,"r":-0.82,"s":"**"},{"m":48,"g":7,"r":-0.78,"s":"*"},{"m":48,"g":8,"r":-0.78,"s":"*"},{"m":48,"g":9,"r":-0.25,"s":""},{"m":48,"g":10,"r":-0.75,"s":"*"},{"m":48,"g":11,"r":-0.87,"s":"**"},{"m":48,"g":12,"r":-0.8,"s":"*"},{"m":48,"g":13,"r":-0.57,"s":""},
{"m":49,"g":1,"r":0.55,"s":""},{"m":49,"g":2,"r":0.65,"s":"*"},{"m":49,"g":3,"r":0.92,"s":"***"},{"m":49,"g":4,"r":0.55,"s":""},{"m":49,"g":5,"r":-0.55,"s":""},{"m":49,"g":6,"r":-0.58,"s":""},{"m":49,"g":7,"r":-0.5,"s":""},{"m":49,"g":8,"r":-0.48,"s":""},{"m":49,"g":9,"r":-1,"s":"***"},{"m":49,"g":10,"r":-0.9,"s":"**"},{"m":49,"g":11,"r":-0.78,"s":"*"},{"m":49,"g":12,"r":-0.75,"s":"*"},{"m":49,"g":13,"r":-0.7,"s":"*"},
{"m":50,"g":1,"r":0.58,"s":""},{"m":50,"g":2,"r":0.58,"s":""},{"m":50,"g":3,"r":0.85,"s":"**"},{"m":50,"g":4,"r":0.27,"s":""},{"m":50,"g":5,"r":-0.92,"s":"**"},{"m":50,"g":6,"r":-0.68,"s":"*"},{"m":50,"g":7,"r":-0.55,"s":""},{"m":50,"g":8,"r":-0.6,"s":""},{"m":50,"g":9,"r":-0.95,"s":"**"},{"m":50,"g":10,"r":-0.95,"s":"**"},{"m":50,"g":11,"r":-0.93,"s":"**"},{"m":50,"g":12,"r":-0.8,"s":"*"},{"m":50,"g":13,"r":-0.85,"s":"**"}
]},
"hconcat":[
{"width":124.3,"height":898,"data":{"name":"rowTree"},
"layer":[
{"mark":{"type":"rule","color":"#1a1a1a","strokeWidth":1,"strokeCap":"square"},"encoding":{"x":{"field":"h","type":"quantitative","axis":null,"scale":{"domain":[120,-4.3],"nice":false,"zero":false}},"y":{"field":"a","type":"quantitative","axis":null,"scale":{"domain":[50.5,-8.58],"nice":false,"zero":false}},"y2":{"field":"b"}}},
{"mark":{"type":"rule","color":"#1a1a1a","strokeWidth":1,"strokeCap":"square"},"encoding":{"x":{"field":"ha","type":"quantitative","axis":null,"scale":{"domain":[120,-4.3],"nice":false,"zero":false}},"x2":{"field":"h"},"y":{"field":"a","type":"quantitative","axis":null,"scale":{"domain":[50.5,-8.58],"nice":false,"zero":false}}}},
{"mark":{"type":"rule","color":"#1a1a1a","strokeWidth":1,"strokeCap":"square"},"encoding":{"x":{"field":"hb","type":"quantitative","axis":null,"scale":{"domain":[120,-4.3],"nice":false,"zero":false}},"x2":{"field":"h"},"y":{"field":"b","type":"quantitative","axis":null,"scale":{"domain":[50.5,-8.58],"nice":false,"zero":false}}}}
]},
{"bounds":"flush","spacing":0,"vconcat":[
{"width":420.7,"height":138,"data":{"name":"colTree"},
"layer":[
{"mark":{"type":"rule","color":"#1a1a1a","strokeWidth":1,"strokeCap":"square"},"encoding":{"y":{"field":"h","type":"quantitative","axis":null,"scale":{"domain":[-5,133],"nice":false,"zero":false}},"x":{"field":"a","type":"quantitative","axis":null,"scale":{"domain":[0.5,13.5],"nice":false,"zero":false}},"x2":{"field":"b"}}},
{"mark":{"type":"rule","color":"#1a1a1a","strokeWidth":1,"strokeCap":"square"},"encoding":{"y":{"field":"ha","type":"quantitative","axis":null,"scale":{"domain":[-5,133],"nice":false,"zero":false}},"y2":{"field":"h"},"x":{"field":"a","type":"quantitative","axis":null,"scale":{"domain":[0.5,13.5],"nice":false,"zero":false}}}},
{"mark":{"type":"rule","color":"#1a1a1a","strokeWidth":1,"strokeCap":"square"},"encoding":{"y":{"field":"hb","type":"quantitative","axis":null,"scale":{"domain":[-5,133],"nice":false,"zero":false}},"y2":{"field":"h"},"x":{"field":"b","type":"quantitative","axis":null,"scale":{"domain":[0.5,13.5],"nice":false,"zero":false}}}}
]},
{"width":420.7,"height":760,"data":{"name":"cells"},
"transform":[{"lookup":"m","from":{"data":{"name":"metabolites"},"key":"m","fields":["metabolite"]}},{"lookup":"g","from":{"data":{"name":"genera"},"key":"g","fields":["genus"]}}],
"encoding":{
"x":{"field":"genus","type":"nominal","sort":{"field":"g","op":"min"},"scale":{"paddingInner":0,"paddingOuter":0},"title":null,"axis":{"orient":"bottom","labelAngle":90,"labelAlign":"left","labelBaseline":"middle","ticks":false,"domain":false,"grid":false,"labelFontSize":13,"labelColor":"#000","labelPadding":5,"labelOffset":4,"labelLimit":0,"labelFont":"Liberation Sans"}},
"y":{"field":"metabolite","type":"nominal","sort":{"field":"m","op":"min"},"scale":{"paddingInner":0,"paddingOuter":0},"title":null,"axis":{"orient":"right","ticks":false,"domain":false,"grid":false,"labelFontSize":11.7,"labelColor":"#000","labelPadding":3.5,"labelLimit":0,"labelFont":"Liberation Sans"}}},
"layer":[
{"mark":{"type":"rect","strokeWidth":0},"encoding":{"color":{"field":"r","type":"quantitative","scale":{"domain":[-1,0,1],"range":["#00008b","#ffffff","#b22222"],"interpolate":"rgb"},"legend":{"title":null,"orient":"none","legendX":935.7,"legendY":13,"gradientLength":128,"gradientThickness":32,"gradientStrokeColor":"#444","gradientStrokeWidth":1,"values":[-1,-0.5,0,0.5,1],"format":"~g","labelFontSize":16,"labelColor":"#000","labelFont":"Liberation Sans","labelOffset":6,"encode":{"labels":{"update":{"baseline":{"value":"middle"}}}}}}}},
{"mark":{"type":"text","font":"Liberation Sans","fontSize":14,"fontWeight":"bold","color":"#000","dy":3},"encoding":{"text":{"field":"s","type":"nominal"}}}
]}
]}
]}
